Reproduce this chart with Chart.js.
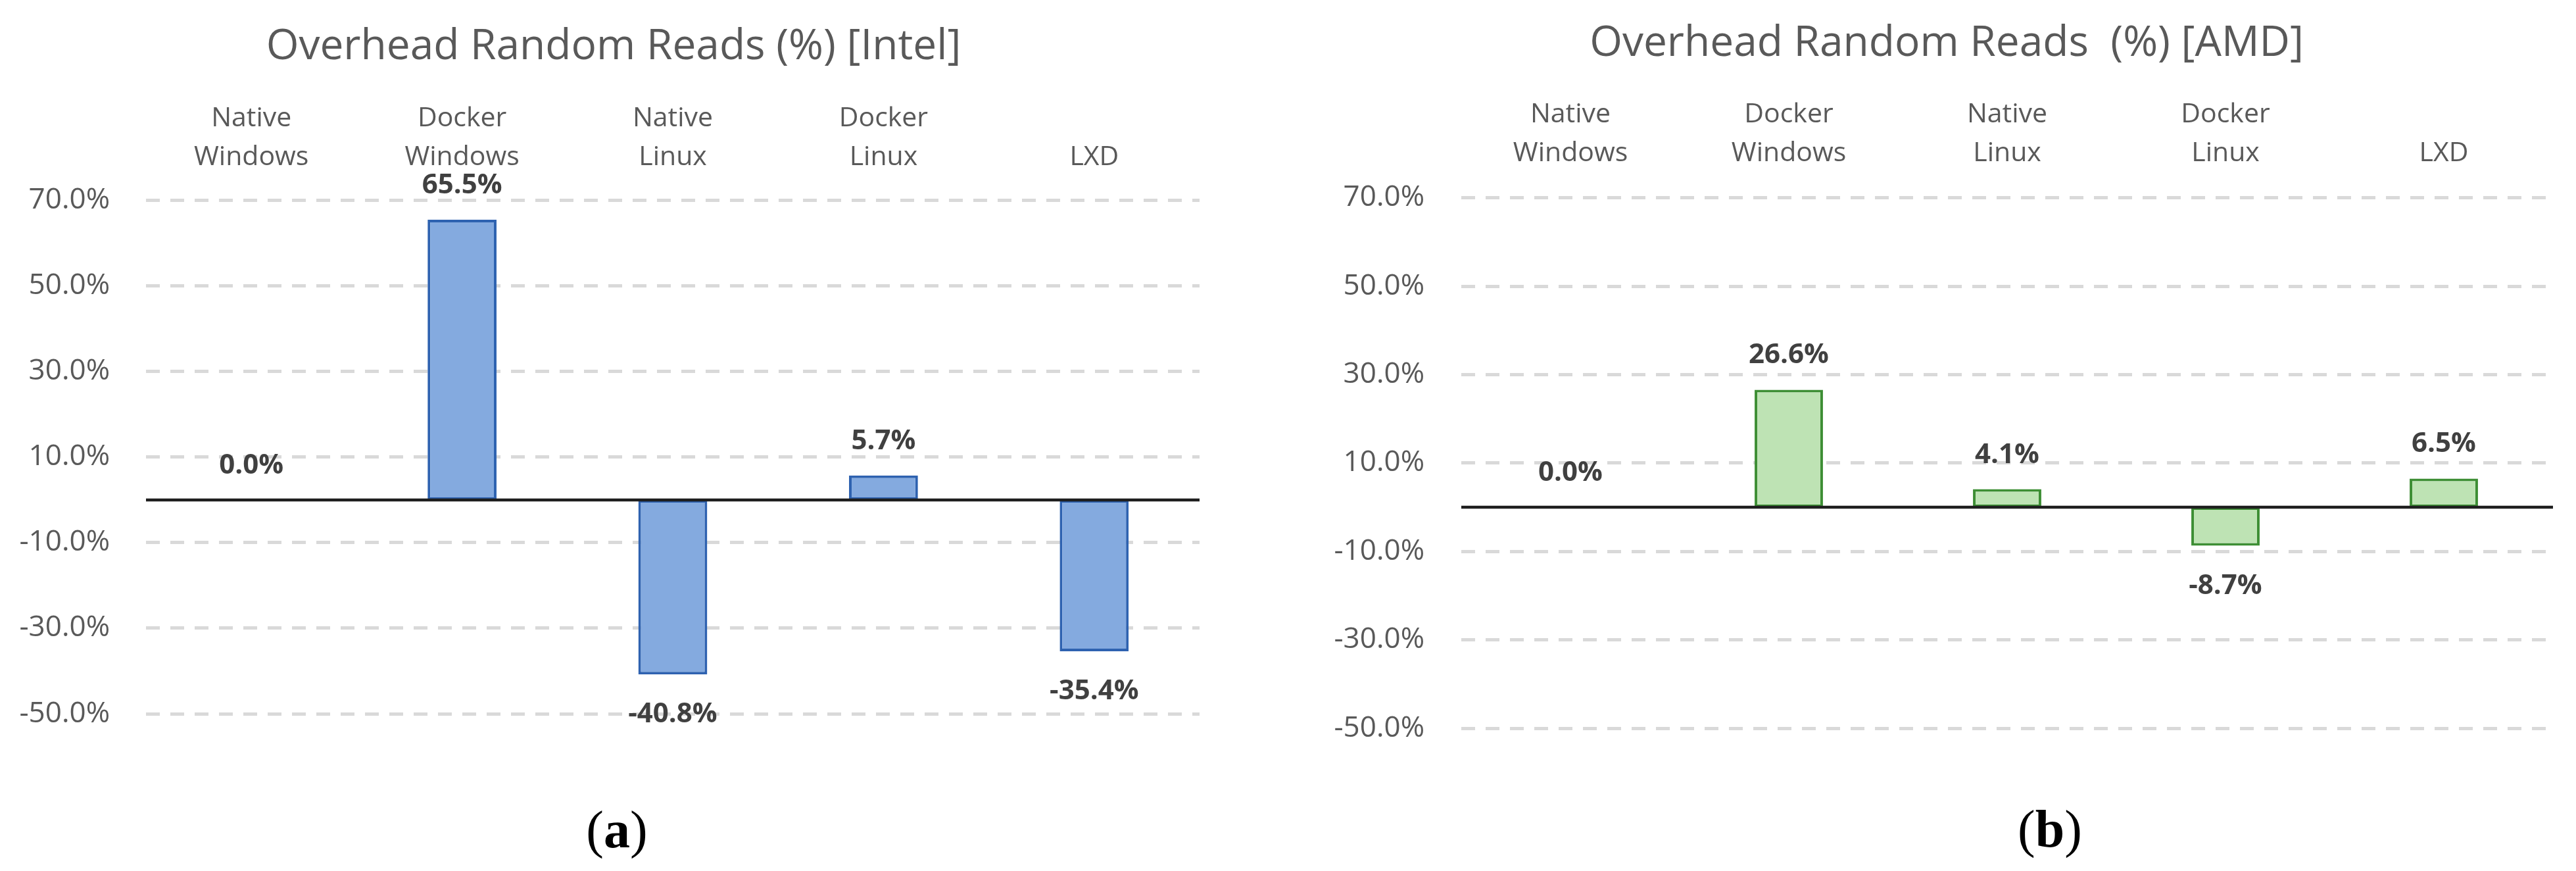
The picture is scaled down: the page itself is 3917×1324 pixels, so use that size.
<!DOCTYPE html>
<html>
<head>
<meta charset="utf-8">
<title>Overhead Random Reads</title>
<script src="https://cdn.jsdelivr.net/npm/chart.js@4.4.0/dist/chart.umd.min.js"></script>
<style>
    html, body { margin: 0; padding: 0; background: #ffffff; }
    body { width: 3917px; height: 1324px; position: relative; overflow: hidden; }
    canvas { position: absolute; top: 0; }
    .caption {
        position: absolute;
        font-family: 'Liberation Serif', 'Times New Roman', serif;
        font-size: 80px;
        line-height: 1;
        color: #000;
        transform: translate(-50%, -50%);
    }
</style>
</head>
<body>
<canvas id="intelChart" width="1866" height="1324" style="left:0px"></canvas>
<canvas id="amdChart" width="1920" height="1324" style="left:2000px"></canvas>
<div class="caption" style="left:938px; top:1261px;">(<b>a</b>)</div>
<div class="caption" style="left:3117px; top:1260px;">(<b>b</b>)</div>
<script>
const categories = [['Native', 'Windows'], ['Docker', 'Windows'], ['Native', 'Linux'], ['Docker', 'Linux'], 'LXD'];
const intelValues = [0.0, 65.5, -40.8, 5.7, -35.4];
const amdValues = [0.0, 26.6, 4.1, -8.7, 6.5];
const yTickValues = [-50, -30, -10, 10, 30, 50, 70];

document.addEventListener("DOMContentLoaded", function () {
    Chart.defaults.font.family = "'Open Sans', 'Liberation Sans', sans-serif";
    Chart.defaults.color = '#595959';

    function formatPercent(value) {
        return value.toFixed(1) + '%';
    }

    // zero line + value labels over the bars
    const overlayPlugin = {
        id: 'overlay',
        afterDatasetsDraw(chart) {
            const ctx = chart.ctx;
            const area = chart.chartArea;
            const y0 = chart.scales.y.getPixelForValue(0);
            ctx.save();
            ctx.strokeStyle = '#1e1e1e';
            ctx.lineWidth = 4.5;
            ctx.beginPath();
            ctx.moveTo(area.left, y0);
            ctx.lineTo(area.right, y0);
            ctx.stroke();

            const meta = chart.getDatasetMeta(0);
            const data = chart.data.datasets[0].data;
            ctx.fillStyle = '#404040';
            ctx.font = "bold 42px 'Open Sans', 'Liberation Sans', sans-serif";
            ctx.textAlign = 'center';
            ctx.textBaseline = 'middle';
            meta.data.forEach(function (bar, i) {
                const v = data[i];
                const y = v >= 0 ? bar.y - 52 : bar.y + 61;
                ctx.fillText(formatPercent(v), bar.x, y);
            });
            ctx.restore();
        }
    };

    function makeChart(id, opts) {
        const ctx = document.getElementById(id).getContext('2d');
        return new Chart(ctx, {
            type: 'bar',
            data: {
                labels: categories,
                datasets: [{
                    data: opts.values,
                    backgroundColor: opts.fill,
                    borderColor: opts.border,
                    borderWidth: 4,
                    borderSkipped: false,
                    categoryPercentage: 1.0,
                    barPercentage: opts.barPct
                }]
            },
            options: {
                responsive: false,
                animation: false,
                layout: { padding: { top: 0, left: 0, right: 0, bottom: opts.padBottom } },
                plugins: {
                    legend: { display: false },
                    tooltip: { enabled: false },
                    title: {
                        display: true,
                        text: opts.title,
                        color: '#595959',
                        font: { size: 64, weight: 'normal', lineHeight: 1.2 },
                        padding: { top: opts.titleTop, bottom: 0 }
                    }
                },
                scales: {
                    x: {
                        position: 'top',
                        grid: { display: false, drawTicks: false },
                        border: { display: false },
                        ticks: {
                            color: '#595959',
                            padding: opts.xPad,
                            maxRotation: 0,
                            autoSkip: false,
                            font: { size: 41, lineHeight: 1.44 }
                        },
                        afterFit: function (scale) {
                            scale.height = opts.xHeight;
                        }
                    },
                    y: {
                        min: -50,
                        max: 70,
                        afterBuildTicks: function (axis) {
                            axis.ticks = yTickValues.map(v => ({ value: v }));
                        },
                        grid: { color: '#d9d9d9', lineWidth: 5, drawTicks: false },
                        border: { display: false, dash: [21, 16] },
                        ticks: {
                            color: '#595959',
                            padding: opts.tickPad,
                            font: { size: 44 },
                            callback: function (value) {
                                return formatPercent(value);
                            }
                        },
                        afterFit: function (scale) {
                            scale.width = opts.yWidth;
                        }
                    },
                    // empty right-hand box: keeps the title centred off the plot centre
                    gap: {
                        position: 'right',
                        grid: { display: false, drawTicks: false },
                        border: { display: false },
                        ticks: { display: false },
                        afterFit: function (scale) {
                            scale.width = opts.rightGap;
                        }
                    }
                }
            },
            plugins: [overlayPlugin]
        });
    }

    // canvas at x=0: plot 222..1824, title centred at 933
    makeChart('intelChart', {
        title: 'Overhead Random Reads (%) [Intel]',
        values: intelValues,
        fill: '#84aadf',
        border: '#2e62b0',
        barPct: 0.327,
        titleTop: 33,
        xHeight: 195,
        xPad: 36,
        yWidth: 222,
        tickPad: 55,
        rightGap: 42,
        padBottom: 239
    });

    // canvas at x=2000: plot 2222..3882, title centred at 2960
    makeChart('amdChart', {
        title: 'Overhead Random Reads  (%) [AMD]',
        values: amdValues,
        fill: '#bee3b4',
        border: '#3d8e34',
        barPct: 0.313,
        titleTop: 28,
        xHeight: 196,
        xPad: 38,
        yWidth: 222,
        tickPad: 56,
        rightGap: 38,
        padBottom: 217
    });
});
</script>
</body>
</html>
